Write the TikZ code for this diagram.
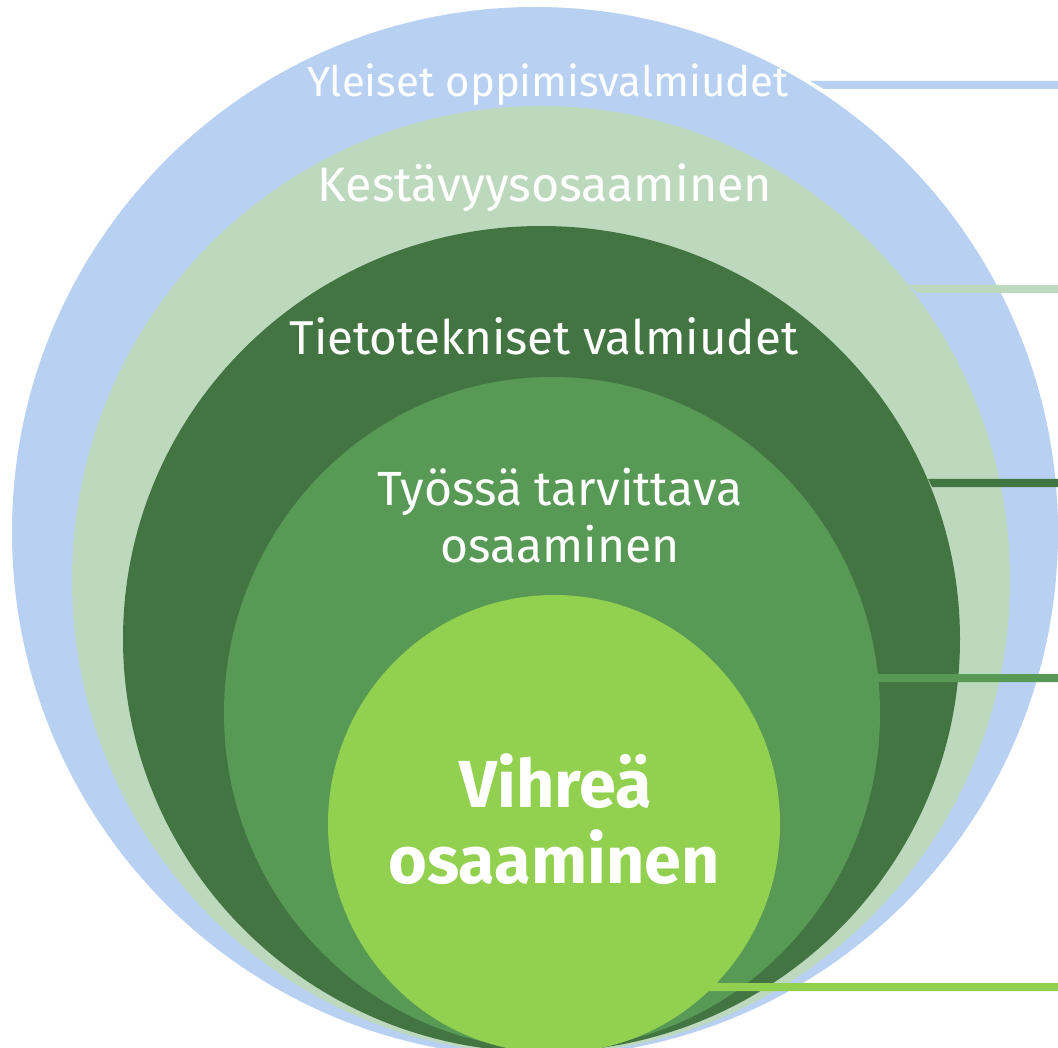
\documentclass[tikz,border=0pt]{standalone}
\usepackage{fontspec}
\setmainfont{Fira Sans}
\usepackage{tikz}

\definecolor{ringblue}{HTML}{B8D0F1}
\definecolor{ringpale}{HTML}{BDD9BD}
\definecolor{ringdark}{HTML}{437542}
\definecolor{ringmid}{HTML}{589A55}
\definecolor{ringlime}{HTML}{92D050}

\tikzset{
  ringlabel/.style={text=white, inner sep=0pt, anchor=base},
}

\begin{document}
\begin{tikzpicture}[x=1pt,y=-1pt]
\useasboundingbox (0,0) rectangle (1058,1048);
\clip (0,0) rectangle (1058,1048);
\fill[ringblue] (535,532) ellipse (523 and 525);
\fill[ringblue] (810,81) -- (1058,81) -- (1058,89) -- (824,89) -- cycle;
\fill[ringpale] (541,580) ellipse (469 and 474);
\fill[ringpale] (908,285) -- (1058,285) -- (1058,293) -- (918,293) -- cycle;
\fill[ringdark] (541.5,639) ellipse (418.5 and 413);
\fill[ringdark] (928,479) -- (1058,479) -- (1058,487) -- (932,487) -- cycle;
\fill[ringmid] (552,713) ellipse (328 and 336);
\fill[ringmid] (877,674) -- (1058,674) -- (1058,682) -- (878,682) -- cycle;
\fill[ringlime] (554,824) ellipse (226 and 229);
\fill[ringlime] (715,983) -- (1058,983) -- (1058,991) -- (705,991) -- cycle;
\node[ringlabel, font=\fontsize{42}{50}\selectfont] (yleiset) at (548,97) {Yleiset oppimisvalmiudet};
\node[ringlabel, font=\fontsize{48.4}{58}\selectfont] (kestavyys) at (545,202) {Kestävyysosaaminen};
\node[ringlabel, font=\fontsize{47.5}{57}\selectfont] (tieto) at (544,355) {Tietotekniset valmiudet};
\node[ringlabel, font=\fontsize{48}{57}\selectfont] (tyossa) at (560,505) {Työssä tarvittava};
\node[ringlabel, font=\fontsize{48}{57}\selectfont] (tyossa osaaminen) at (560,562) {osaaminen};
\node[ringlabel, font=\bfseries\fontsize{66.5}{76}\selectfont] (vihrea) at (556,807) {Vihreä};
\node[ringlabel, font=\bfseries\fontsize{66.5}{76}\selectfont] (vihrea osaaminen) at (554,883) {osaaminen};
\end{tikzpicture}
\end{document}
